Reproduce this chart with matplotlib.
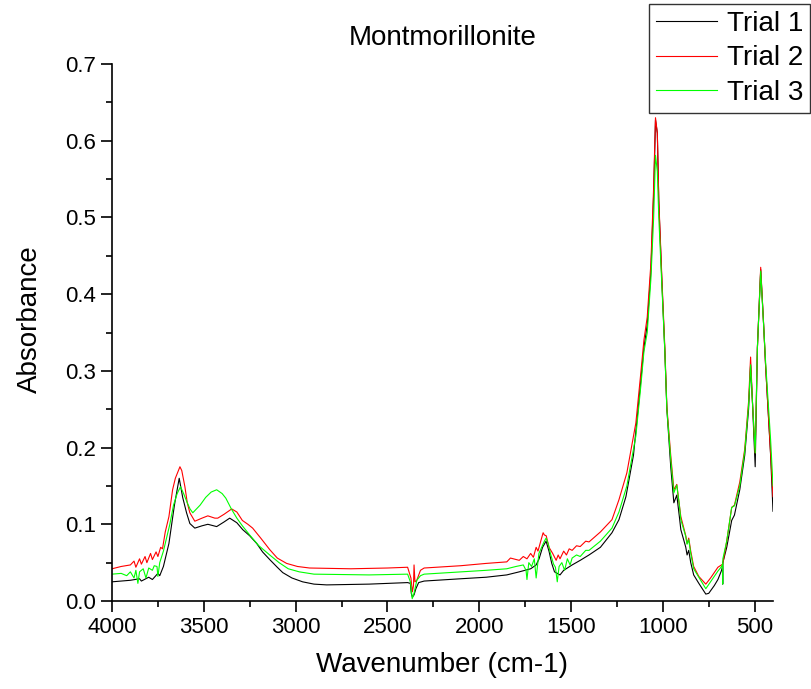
import matplotlib
matplotlib.use("Agg")
import matplotlib.pyplot as plt
from matplotlib.ticker import MultipleLocator

plt.rcParams['font.family'] = ['Liberation Sans', 'DejaVu Sans']

# Trial 1 (black)
trial1_wn = [4000, 3900, 3850, 3840, 3800, 3780, 3750, 3740, 3720, 3690, 3660, 3634, 3615,
             3594, 3576, 3549, 3510, 3478, 3430, 3390, 3359, 3320, 3288, 3250, 3212,
             3180, 3141, 3100, 3070, 3020, 2962, 2900, 2831, 2600, 2390, 2375, 2370,
             2364, 2355, 2345, 2330, 2300, 2100, 1962, 1850, 1782, 1720, 1690, 1674,
             1655, 1636, 1620, 1605, 1590, 1575, 1560, 1540, 1494, 1450, 1402, 1340,
             1277, 1239, 1201, 1160, 1130, 1103, 1085, 1065, 1050, 1040, 1030, 1022,
             1005, 989, 978, 957, 940, 924, 910, 902, 875, 868, 859, 848, 832, 804,
             766, 750, 720, 700, 680, 675, 674, 673, 652, 625, 610, 581, 554, 533,
             522, 512, 497, 485, 467, 451, 440, 413, 400]
trial1_abs = [0.025, 0.027, 0.029, 0.026, 0.031, 0.028, 0.036, 0.033, 0.045, 0.075, 0.125,
              0.160, 0.135, 0.115, 0.101, 0.095, 0.098, 0.100, 0.097, 0.103, 0.108,
              0.102, 0.093, 0.085, 0.075, 0.064, 0.054, 0.044, 0.037, 0.030, 0.025,
              0.022, 0.021, 0.022, 0.024, 0.023, 0.010, 0.005, 0.008, 0.016, 0.024,
              0.026, 0.029, 0.031, 0.034, 0.038, 0.042, 0.047, 0.055, 0.070, 0.078,
              0.065, 0.049, 0.038, 0.036, 0.034, 0.040, 0.047, 0.053, 0.060, 0.070,
              0.089, 0.106, 0.136, 0.190, 0.262, 0.330, 0.360, 0.430, 0.530, 0.627,
              0.610, 0.520, 0.415, 0.325, 0.250, 0.175, 0.128, 0.138, 0.110, 0.093,
              0.070, 0.060, 0.066, 0.050, 0.034, 0.023, 0.009, 0.010, 0.020, 0.028,
              0.040, 0.045, 0.022, 0.050, 0.070, 0.105, 0.112, 0.145, 0.190, 0.250,
              0.308, 0.260, 0.175, 0.330, 0.432, 0.360, 0.305, 0.190, 0.117]

# Trial 2 (red)
trial2_wn = [4000, 3950, 3900, 3880, 3870, 3850, 3840, 3820, 3810, 3790, 3780, 3760, 3750,
             3735, 3725, 3710, 3690, 3670, 3655, 3630, 3620, 3603, 3590, 3576, 3549,
             3510, 3478, 3440, 3424, 3390, 3348, 3320, 3290, 3260, 3234, 3190, 3141,
             3100, 3049, 2990, 2924, 2700, 2500, 2390, 2372, 2364, 2358, 2355, 2350,
             2340, 2320, 2300, 2100, 1962, 1850, 1830, 1782, 1760, 1740, 1720, 1705,
             1690, 1680, 1665, 1652, 1645, 1635, 1620, 1600, 1581, 1570, 1560, 1540,
             1525, 1510, 1494, 1470, 1450, 1420, 1402, 1340, 1277, 1239, 1196, 1147,
             1120, 1103, 1085, 1065, 1050, 1040, 1030, 1022, 1005, 989, 978, 957, 940,
             924, 910, 902, 875, 868, 859, 848, 832, 804, 766, 740, 700, 674, 652,
             625, 610, 581, 554, 533, 522, 512, 497, 485, 467, 451, 440, 413, 400]
trial2_abs = [0.042, 0.045, 0.047, 0.052, 0.044, 0.055, 0.048, 0.058, 0.050, 0.062, 0.054,
              0.064, 0.058, 0.070, 0.068, 0.090, 0.110, 0.145, 0.160, 0.175, 0.170,
              0.149, 0.128, 0.115, 0.104, 0.108, 0.111, 0.108, 0.108, 0.113, 0.120,
              0.116, 0.105, 0.100, 0.095, 0.082, 0.067, 0.056, 0.049, 0.045, 0.043,
              0.042, 0.043, 0.044, 0.030, 0.012, 0.020, 0.047, 0.025, 0.027, 0.040,
              0.043, 0.046, 0.049, 0.051, 0.056, 0.053, 0.058, 0.055, 0.062, 0.057,
              0.070, 0.065, 0.078, 0.089, 0.086, 0.085, 0.070, 0.062, 0.053, 0.060,
              0.055, 0.065, 0.060, 0.068, 0.066, 0.072, 0.071, 0.078, 0.077, 0.090,
              0.106, 0.132, 0.167, 0.232, 0.297, 0.340, 0.370, 0.440, 0.540, 0.630,
              0.610, 0.523, 0.420, 0.330, 0.253, 0.190, 0.145, 0.152, 0.125, 0.110,
              0.085, 0.075, 0.082, 0.065, 0.045, 0.032, 0.022, 0.030, 0.044, 0.048,
              0.078, 0.122, 0.125, 0.155, 0.198, 0.260, 0.318, 0.260, 0.193, 0.330,
              0.435, 0.360, 0.305, 0.192, 0.136]

# Trial 3 (green)
trial3_wn = [4000, 3950, 3920, 3900, 3880, 3870, 3859, 3850, 3830, 3815, 3800, 3780, 3770,
             3755, 3750, 3740, 3720, 3700, 3685, 3665, 3645, 3627, 3610, 3590, 3575,
             3560, 3520, 3490, 3460, 3430, 3400, 3380, 3350, 3320, 3290, 3250, 3200,
             3141, 3090, 3040, 2980, 2900, 2600, 2390, 2375, 2365, 2355, 2340, 2320,
             2300, 2100, 1962, 1850, 1800, 1760, 1745, 1740, 1730, 1715, 1700, 1690,
             1675, 1660, 1645, 1636, 1625, 1610, 1595, 1585, 1575, 1565, 1550, 1535,
             1520, 1505, 1494, 1470, 1450, 1420, 1402, 1340, 1277, 1239, 1196, 1147,
             1120, 1103, 1085, 1065, 1050, 1040, 1030, 1022, 1005, 989, 978, 957, 940,
             924, 910, 902, 875, 868, 859, 848, 832, 804, 766, 740, 700, 680, 675, 674,
             673, 652, 625, 610, 581, 554, 533, 522, 512, 497, 485, 467, 451, 440,
             413, 400]
trial3_abs = [0.035, 0.036, 0.033, 0.038, 0.030, 0.040, 0.023, 0.038, 0.042, 0.030, 0.043,
              0.040, 0.046, 0.045, 0.032, 0.050, 0.065, 0.085, 0.100, 0.125, 0.140,
              0.149, 0.140, 0.128, 0.120, 0.115, 0.125, 0.135, 0.142, 0.145, 0.140,
              0.134, 0.120, 0.108, 0.098, 0.086, 0.072, 0.060, 0.050, 0.042, 0.038,
              0.035, 0.034, 0.035, 0.025, 0.003, 0.010, 0.027, 0.033, 0.035, 0.038,
              0.040, 0.042, 0.045, 0.047, 0.040, 0.028, 0.050, 0.045, 0.055, 0.030,
              0.062, 0.070, 0.078, 0.082, 0.075, 0.060, 0.048, 0.044, 0.025, 0.045,
              0.050, 0.040, 0.055, 0.047, 0.056, 0.060, 0.058, 0.066, 0.066, 0.078,
              0.095, 0.116, 0.150, 0.215, 0.280, 0.325, 0.350, 0.420, 0.500, 0.581,
              0.560, 0.500, 0.410, 0.325, 0.250, 0.185, 0.141, 0.151, 0.125, 0.106,
              0.084, 0.074, 0.080, 0.062, 0.042, 0.031, 0.016, 0.025, 0.039, 0.045,
              0.048, 0.022, 0.055, 0.078, 0.122, 0.124, 0.150, 0.195, 0.255, 0.308,
              0.260, 0.193, 0.330, 0.430, 0.360, 0.310, 0.210, 0.150]

fig = plt.figure(figsize=(8.12, 6.89), dpi=100)
ax = fig.add_axes([112 / 812, 88 / 689, 661 / 812, 537 / 689])

ax.plot(trial1_wn, trial1_abs, color='#000000', lw=0.8, label='Trial 1')
ax.plot(trial2_wn, trial2_abs, color='#FF0000', lw=0.8, label='Trial 2')
ax.plot(trial3_wn, trial3_abs, color='#00FF00', lw=0.8, label='Trial 3')

ax.set_xlim(4000, 400)
ax.set_ylim(0, 0.7)
ax.xaxis.set_major_locator(MultipleLocator(500))
ax.xaxis.set_minor_locator(MultipleLocator(250))
ax.yaxis.set_major_locator(MultipleLocator(0.1))
ax.yaxis.set_minor_locator(MultipleLocator(0.05))
ax.yaxis.set_major_formatter(plt.FuncFormatter(lambda v, p: f'{v:.1f}'))

for side in ['top', 'right']:
    ax.spines[side].set_visible(False)
for side in ['left', 'bottom']:
    ax.spines[side].set_linewidth(1.2)
ax.tick_params(which='major', direction='out', length=8, width=1.2, labelsize=16)
ax.tick_params(which='minor', direction='out', length=4, width=1.2)

ax.set_xlabel('Wavenumber (cm-1)', fontsize=20, labelpad=10)
ax.set_ylabel('Absorbance', fontsize=20)
ax.yaxis.set_label_coords(-0.105, 0.525)
ax.set_title('Montmorillonite', fontsize=20, pad=14)

leg = fig.legend(loc='upper right', bbox_to_anchor=(810 / 812, 1 - 4 / 689),
                 fontsize=20, frameon=True, fancybox=False, handlelength=2.2,
                 handletextpad=0.35, labelspacing=0.3, borderpad=0.25,
                 borderaxespad=0)
leg.get_frame().set_edgecolor('black')
leg.get_frame().set_linewidth(1.0)

fig.savefig('out.png', dpi=100)
